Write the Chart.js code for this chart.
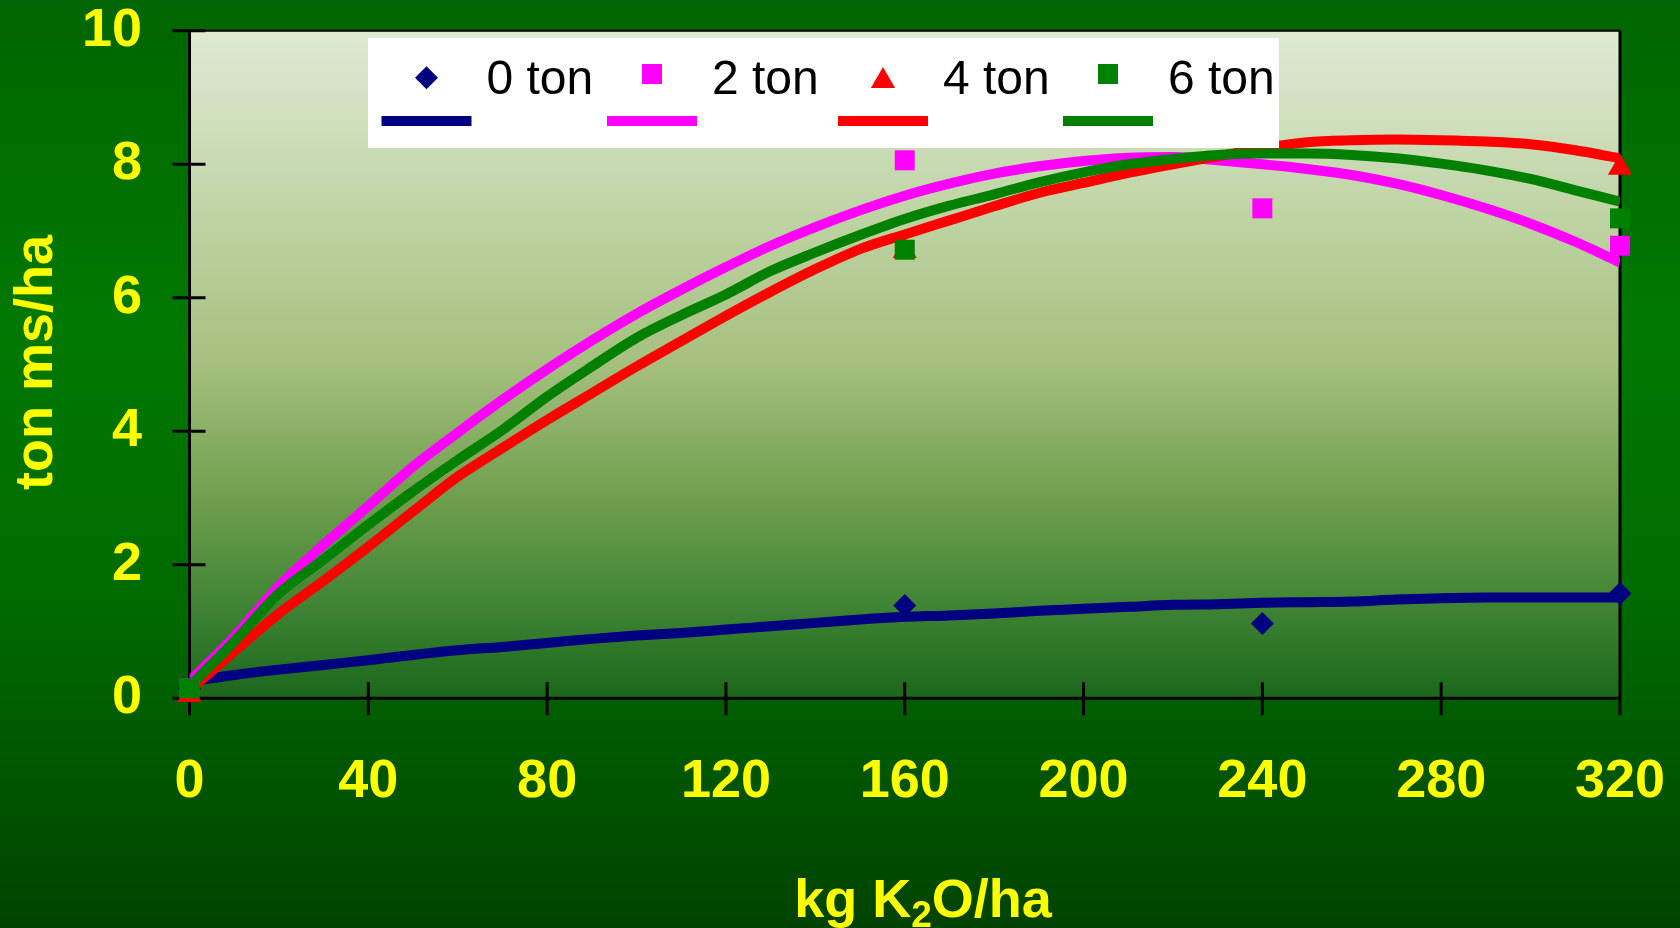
<!DOCTYPE html>
<html>
<head>
<meta charset="utf-8">
<title>Respuesta al potasio</title>
<script src="https://cdn.jsdelivr.net/npm/chart.js@4/dist/chart.umd.min.js"></script>
<style>
  html, body { margin: 0; padding: 0; background: #004400; overflow: hidden; }
  canvas { display: block; }
</style>
</head>
<body>
<canvas id="c" width="1680" height="928"></canvas>
<script>
// Doses of K2O (kg/ha) at which yield was measured
const doseK2O = [0, 160, 240, 320];

// Measured dry-matter yield (ton ms/ha) per manure level
const measured0 = [0.15, 1.39, 1.12, 1.57];
const measured2 = [0.15, 8.06, 7.34, 6.78];
const measured4 = [0.05, 6.70, null, 7.95];
const measured6 = [0.15, 6.72, null, 7.19];

// Fitted response curves, sampled every 10 kg K2O/ha
const curveDose = [0, 10, 20, 30, 40, 50, 60, 70, 80, 90, 100, 110, 120, 130, 140, 150, 160,
                   170, 180, 190, 200, 210, 220, 230, 240, 250, 260, 270, 280, 290, 300, 310, 320];
const curve0 = [0.25, 0.35, 0.43, 0.50, 0.57, 0.65, 0.72, 0.77, 0.83, 0.89, 0.94, 0.98, 1.03, 1.08, 1.13, 1.18, 1.22,
                1.24, 1.27, 1.31, 1.34, 1.37, 1.40, 1.41, 1.43, 1.44, 1.45, 1.48, 1.50, 1.51, 1.51, 1.51, 1.51];
const curve2 = [0.25, 0.92, 1.68, 2.30, 2.88, 3.47, 3.98, 4.47, 4.93, 5.36, 5.76, 6.12, 6.46, 6.78, 7.06, 7.31, 7.53,
                7.71, 7.86, 7.97, 8.05, 8.10, 8.11, 8.06, 8.00, 7.93, 7.84, 7.71, 7.54, 7.34, 7.11, 6.84, 6.53];
const curve4 = [0.12, 0.70, 1.27, 1.76, 2.27, 2.80, 3.32, 3.75, 4.17, 4.57, 4.97, 5.35, 5.73, 6.09, 6.43, 6.73, 6.95,
                7.16, 7.37, 7.57, 7.72, 7.87, 8.00, 8.12, 8.24, 8.33, 8.36, 8.37, 8.36, 8.34, 8.30, 8.21, 8.09];
const curve6 = [0.18, 0.85, 1.57, 2.08, 2.60, 3.10, 3.57, 4.02, 4.52, 4.97, 5.40, 5.74, 6.05, 6.40, 6.68, 6.94, 7.18,
                7.38, 7.55, 7.73, 7.88, 8.00, 8.08, 8.14, 8.16, 8.16, 8.14, 8.09, 8.01, 7.91, 7.78, 7.61, 7.44];

// Series names, axis ticks and titles
const seriesNames = ['0 ton', '2 ton', '4 ton', '6 ton'];
const xTicks = [0, 40, 80, 120, 160, 200, 240, 280, 320];
const yTicks = [0, 2, 4, 6, 8, 10];
const yTitle = 'ton ms/ha';
const xTitleParts = ['kg K', '2', 'O/ha'];

// Series appearance
const seriesColors = ['#000080', '#ff00ff', '#ff0000', '#008000'];
const seriesMarkers = ['rectRot', 'rect', 'triangle', 'rect'];
const markerRadius = [11.5, 14.14, 14, 14.14];

const FONT = '"Liberation Sans", Arial, Helvetica, sans-serif';
const YELLOW = '#ffff00';

const toPoints = (xs, ys) => xs.map((x, i) => ({ x, y: ys[i] }));
const measuredSets = [measured0, measured2, measured4, measured6];
const curveSets = [curve0, curve2, curve4, curve6];

const datasets = [];
// fitted curves go underneath the markers; the 6 ton curve is the topmost of them
curveSets.forEach((vals, i) => {
  datasets.push({
    label: seriesNames[i] + ' (ajuste)',
    data: toPoints(curveDose, vals),
    showLine: true,
    borderColor: seriesColors[i],
    backgroundColor: seriesColors[i],
    borderWidth: 10,
    borderCapStyle: 'butt',
    borderJoinStyle: 'round',
    cubicInterpolationMode: 'monotone',
    pointRadius: 0,
    pointHoverRadius: 0,
    order: 14 - i
  });
});
measuredSets.forEach((vals, i) => {
  datasets.push({
    label: seriesNames[i],
    data: toPoints(doseK2O, vals).filter(p => p.y !== null),
    showLine: false,
    pointStyle: seriesMarkers[i],
    pointRadius: markerRadius[i],
    pointHoverRadius: markerRadius[i],
    pointBackgroundColor: seriesColors[i],
    pointBorderWidth: 0,
    clip: false,
    order: 4 - i
  });
});

// Backgrounds, plot frame and crossing tick marks
const framePlugin = {
  id: 'frame',
  beforeDraw(chart) {
    const { ctx, width, height, chartArea: a } = chart;
    ctx.save();
    let g = ctx.createLinearGradient(0, 0, 0, height);
    g.addColorStop(0, '#006500');
    g.addColorStop(0.35, '#007800');
    g.addColorStop(0.65, '#006a00');
    g.addColorStop(1, '#004300');
    ctx.fillStyle = g;
    ctx.fillRect(0, 0, width, height);

    g = ctx.createLinearGradient(0, a.top, 0, a.bottom);
    g.addColorStop(0, '#dfe9d4');
    g.addColorStop(0.25, '#c2d6a8');
    g.addColorStop(0.5, '#a5c07e');
    g.addColorStop(0.7, '#6f9f4e');
    g.addColorStop(0.85, '#428636');
    g.addColorStop(1, '#1b671b');
    ctx.fillStyle = g;
    ctx.fillRect(a.left, a.top, a.right - a.left, a.bottom - a.top);
    ctx.restore();
  },
  beforeDatasetsDraw(chart) {
    const { ctx, chartArea: a, scales: { x, y } } = chart;
    ctx.save();
    ctx.strokeStyle = '#000';
    ctx.lineWidth = 2;
    ctx.beginPath();
    ctx.moveTo(a.left, a.top);
    ctx.lineTo(a.right, a.top);
    ctx.stroke();
    ctx.lineWidth = 3;
    ctx.beginPath();
    ctx.moveTo(a.right, a.top);
    ctx.lineTo(a.right, a.bottom);
    ctx.moveTo(a.left, a.top);
    ctx.lineTo(a.left, a.bottom);
    ctx.lineTo(a.right, a.bottom);
    y.ticks.forEach(t => {
      const py = y.getPixelForValue(t.value);
      ctx.moveTo(a.left - 17, py);
      ctx.lineTo(a.left + 16, py);
    });
    x.ticks.forEach(t => {
      const px = x.getPixelForValue(t.value);
      ctx.moveTo(px, a.bottom - 16);
      ctx.lineTo(px, a.bottom + 17);
    });
    ctx.stroke();
    ctx.restore();
  }
};

function drawMarker(ctx, style, r, cx, cy) {
  ctx.beginPath();
  if (style === 'rectRot') {
    ctx.moveTo(cx, cy - r);
    ctx.lineTo(cx + r, cy);
    ctx.lineTo(cx, cy + r);
    ctx.lineTo(cx - r, cy);
  } else if (style === 'triangle') {
    // centred on its bounding box
    const h = 1.5 * r, w = Math.sqrt(3) * r;
    ctx.moveTo(cx, cy - h / 2);
    ctx.lineTo(cx + w / 2, cy + h / 2);
    ctx.lineTo(cx - w / 2, cy + h / 2);
  } else {
    const s = r * Math.SQRT1_2;
    ctx.rect(cx - s, cy - s, 2 * s, 2 * s);
  }
  ctx.closePath();
  ctx.fill();
}

// Two-row legend: markers with names, then the curve swatches
const legendPlugin = {
  id: 'twoRowLegend',
  afterDatasetsDraw(chart) {
    const ctx = chart.ctx;
    ctx.save();
    ctx.fillStyle = '#ffffff';
    ctx.fillRect(368, 38, 911, 110);
    const centers = [426.5, 652, 883, 1108];
    const markerY = [77.7, 74, 77.5, 74];
    ctx.font = '48px ' + FONT;
    ctx.textBaseline = 'alphabetic';
    ctx.textAlign = 'left';
    seriesNames.forEach((name, i) => {
      const cx = centers[i];
      ctx.fillStyle = seriesColors[i];
      drawMarker(ctx, seriesMarkers[i], markerRadius[i], cx, markerY[i]);
      ctx.fillRect(cx - 45, 116, 90, 10);
      ctx.fillStyle = '#000000';
      ctx.fillText(name, cx + 60, 93.5);
    });
    ctx.restore();
  }
};

// Axis titles (the x title carries a subscript)
const titlePlugin = {
  id: 'axisTitles',
  afterDraw(chart) {
    const ctx = chart.ctx;
    ctx.save();
    ctx.fillStyle = YELLOW;
    ctx.textBaseline = 'alphabetic';

    ctx.font = 'bold 54px ' + FONT;
    ctx.save();
    ctx.translate(51.5, 362.5);
    ctx.rotate(-Math.PI / 2);
    ctx.textAlign = 'center';
    ctx.fillText(yTitle, 0, 0);
    ctx.restore();

    ctx.textAlign = 'left';
    const mainFont = 'bold 54px ' + FONT;
    const subFont = 'bold 37px ' + FONT;
    ctx.font = mainFont;
    const w1 = ctx.measureText(xTitleParts[0]).width;
    const w3 = ctx.measureText(xTitleParts[2]).width;
    ctx.font = subFont;
    const w2 = ctx.measureText(xTitleParts[1]).width;
    let px = 923 - (w1 + w2 + w3) / 2;
    const base = 916.5;
    ctx.font = mainFont;
    ctx.fillText(xTitleParts[0], px, base);
    px += w1;
    ctx.font = subFont;
    ctx.fillText(xTitleParts[1], px, base + 10);
    px += w2;
    ctx.font = mainFont;
    ctx.fillText(xTitleParts[2], px, base);
    ctx.restore();
  }
};

// keep the plot rectangle fixed: labels may overhang into the outer margins
const noOverhang = s => {
  s.paddingTop = 0;
  s.paddingBottom = 0;
  s.paddingLeft = 0;
  s.paddingRight = 0;
};

const tickFont = { family: FONT, size: 54, weight: 'bold', lineHeight: 1 };

new Chart(document.getElementById('c'), {
  type: 'scatter',
  data: { datasets },
  options: {
    responsive: false,
    animation: false,
    devicePixelRatio: 1,
    events: [],
    layout: { padding: { top: 30.8, right: 60, left: 0, bottom: 0 } },
    plugins: { legend: { display: false }, tooltip: { enabled: false } },
    scales: {
      x: {
        type: 'linear',
        min: 0,
        max: 320,
        afterBuildTicks: s => { s.ticks = xTicks.map(v => ({ value: v })); },
        afterFit: s => { s.height = 229.7; noOverhang(s); },
        grid: { display: false, drawTicks: false },
        border: { display: false },
        ticks: { color: YELLOW, font: tickFont, padding: 56.7, maxRotation: 0, minRotation: 0, autoSkip: false }
      },
      y: {
        type: 'linear',
        min: 0,
        max: 10,
        afterBuildTicks: s => { s.ticks = yTicks.map(v => ({ value: v })); },
        afterFit: s => { s.width = 189.5; noOverhang(s); },
        grid: { display: false, drawTicks: false },
        border: { display: false },
        ticks: { color: YELLOW, font: tickFont, padding: 47.5, autoSkip: false }
      }
    }
  },
  plugins: [framePlugin, legendPlugin, titlePlugin]
});
</script>
</body>
</html>
